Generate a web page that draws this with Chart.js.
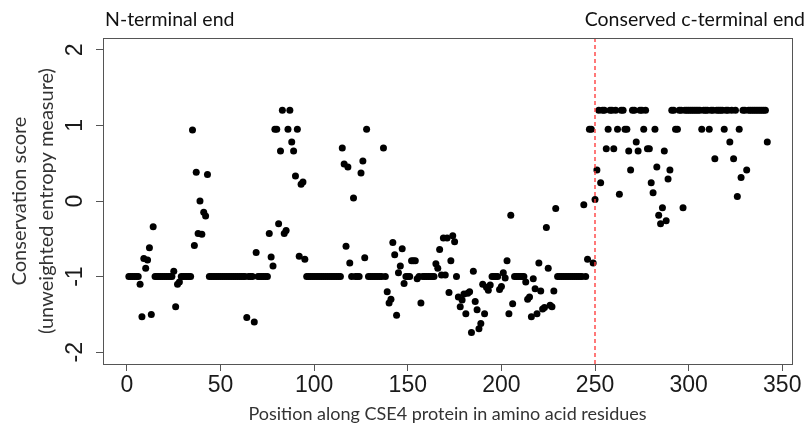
<!DOCTYPE html>
<html>
<head>
<meta charset="utf-8">
<script src="https://cdn.jsdelivr.net/npm/chart.js@4.4.0/dist/chart.umd.min.js"></script>
<style>
  html, body { margin: 0; padding: 0; background: #fff; }
  #wrap { width: 807px; height: 429px; }
</style>
</head>
<body>
<div id="wrap"><canvas id="chart" width="807" height="429"></canvas></div>
<script>
// conservation score per residue, positions 1..342 (ten per row)
const scores = [
  -1, -1, -1, -1, -1, -1, -1.1, -1.53, -0.76, -0.89,
  -0.78, -0.62, -1.5, -0.34, -1, -1, -1, -1, -1, -1,
  -1, -1, -1, -1, -0.93, -1.4, -1.1, -1.07, -1, -1,
  -1, -1, -1, -1, 0.94, -0.59, 0.38, -0.43, 0.0, -0.44,
  -0.15, -0.2, 0.35, -1, -1, -1, -1, -1, -1, -1,
  -1, -1, -1, -1, -1, -1, -1, -1, -1, -1,
  -1, -1, -1, -1.54, -1, -1, -1, -1.6, -0.68, -1,
  -1, -1, -1, -1, -1, -0.43, -0.74, -0.86, 0.95, 0.95,
  -0.3, 0.66, 1.2, -0.43, -0.39, 0.95, 1.2, 0.78, 0.66, 0.33,
  0.95, -0.73, 0.22, 0.25, -0.77, -1, -1, -1, -1, -1,
  -1, -1, -1, -1, -1, -1, -1, -1, -1, -1,
  -1, -1, -1, -1, 0.7, 0.49, -0.6, 0.45, -0.82, -1,
  0.04, -1, -1, -1, 0.37, 0.53, -0.75, 0.95, -1, -1,
  -1, -1, -1, -1, -1, -1, 0.7, -1, -1.2, -1.35,
  -1.3, -0.55, -0.71, -1.51, -0.95, -0.86, -0.63, -1.09, -1, -1,
  -1, -0.79, -0.79, -0.79, -1.03, -1, -1.35, -1, -1, -1,
  -1, -1, -1, -1, -0.83, -0.89, -0.64, -0.98, -0.49, -0.98,
  -0.49, -1.21, -0.79, -0.46, -0.54, -1, -1.27, -1.4, -1.31, -1.23,
  -1.49, -1.22, -1.2, -1.74, -0.93, -1.33, -1.44, -1.69, -1.62, -1.1,
  -1.49, -1.14, -1.18, -1.11, -1, -1, -1, -1, -1.17, -1.13,
  -0.95, -1.02, -0.79, -1.49, -0.19, -1.36, -1, -1, -1, -1,
  -1, -1, -1.07, -1.3, -1.27, -1.53, -1.03, -1.16, -1.49, -0.82,
  -1.19, -1.43, -1.41, -0.35, -0.89, -1.38, -1.4, -1.19, -0.1, -1,
  -1, -1, -1, -1, -1, -1, -1, -1, -1, -1,
  -1, -1, -1, -0.05, -1, -0.77, 0.95, 0.95, -0.82, 0.02,
  0.41, 1.2, 0.24, 1.2, 1.2, 0.69, 0.95, 1.2, 1.2, 0.69,
  1.2, 0.95, 0.09, 1.2, 1.2, 0.95, 0.95, 0.66, 0.41, 1.2,
  1.2, 0.78, 0.66, 1.2, 1.2, 0.95, 1.2, 0.69, 0.69, 0.24,
  0.11, 0.95, 0.45, -0.19, -0.3, -0.09, 0.66, -0.26, 0.29, 0.41,
  1.2, 1.2, 0.95, 0.95, 1.2, 1.2, -0.09, 1.2, 1.2, 1.2,
  1.2, 1.2, 1.2, 1.2, 1.2, 1.2, 0.95, 1.2, 1.2, 1.2,
  0.95, 1.2, 1.2, 0.56, 1.2, 1.2, 1.2, 1.2, 0.95, 1.2,
  1.2, 0.78, 1.2, 0.56, 1.2, 0.06, 0.95, 0.31, 1.2, 1.2,
  0.41, 1.2, 1.2, 1.2, 1.2, 1.2, 1.2, 1.2, 1.2, 1.2,
  1.2, 0.78
];
const positions = scores.map((_, i) => i + 1);

const xTicks = [0, 50, 100, 150, 200, 250, 300, 350];
const yTicks = [-2, -1, 0, 1, 2];
const boundary = 250;

const leftNote = 'N-terminal end';
const rightNote = 'Conserved c-terminal end';
const xTitle = 'Position along CSE4 protein in amino acid residues';
const yTitle = ['Conservation score', '(unweighted entropy measure)'];

const textFont = 'Lato, "Open Sans", sans-serif';

// box, boundary line and the free text round the plot
const decorations = {
    id: 'decorations',
    afterDatasetsDraw(chart) {
        const ctx = chart.ctx;
        const area = chart.chartArea;
        const bx = chart.scales.x.getPixelForValue(boundary);

        ctx.save();
        ctx.strokeStyle = '#ff4040';
        ctx.lineWidth = 1.4;
        ctx.setLineDash([4, 3]);
        ctx.beginPath();
        ctx.moveTo(Math.round(bx), area.top);
        ctx.lineTo(Math.round(bx), area.bottom);
        ctx.stroke();
        ctx.restore();
    },
    afterDraw(chart) {
        const ctx = chart.ctx;
        const area = chart.chartArea;

        ctx.save();
        ctx.strokeStyle = '#555';
        ctx.lineWidth = 1;
        ctx.strokeRect(Math.round(area.left) + 0.5, Math.round(area.top) + 0.5,
            Math.round(area.right - area.left), Math.round(area.bottom - area.top));

        ctx.fillStyle = '#111';
        ctx.font = '19.5px ' + textFont;
        ctx.textBaseline = 'middle';
        ctx.textAlign = 'left';
        ctx.fillText(leftNote, 105, 20);
        ctx.textAlign = 'right';
        ctx.fillText(rightNote, 805, 20);

        ctx.fillStyle = '#333';
        ctx.font = '18px ' + textFont;
        ctx.textAlign = 'center';
        ctx.fillText(xTitle, (area.left + area.right) / 2, 414);

        const cy = (area.top + area.bottom) / 2;
        ctx.font = '20px ' + textFont;
        ctx.translate(20, cy);
        ctx.rotate(-Math.PI / 2);
        ctx.fillText(yTitle[0], 0, 0);
        ctx.fillText(yTitle[1], 0, 27);
        ctx.restore();
    }
};

const axisGrid = {
    drawOnChartArea: false,
    drawTicks: true,
    tickLength: 7,
    color: '#555',
    lineWidth: 1
};

new Chart(document.getElementById('chart').getContext('2d'), {
    type: 'scatter',
    data: {
        datasets: [{
            label: 'Conservation score',
            data: positions.map((p, i) => ({ x: p, y: scores[i] })),
            backgroundColor: '#000',
            borderWidth: 0,
            pointRadius: 3.5,
            pointHoverRadius: 3.5
        }]
    },
    options: {
        responsive: false,
        animation: false,
        layout: {
            padding: { top: 38, right: 15, bottom: 0, left: 0 }
        },
        plugins: {
            legend: { display: false },
            tooltip: { enabled: false }
        },
        scales: {
            x: {
                type: 'linear',
                min: -12.8,
                max: 355.2,
                afterBuildTicks: scale => {
                    scale.ticks = xTicks.map(v => ({ value: v }));
                },
                afterFit: scale => {
                    scale.height = 65;
                },
                grid: axisGrid,
                border: { display: false },
                ticks: {
                    autoSkip: false,
                    maxRotation: 0,
                    padding: 1,
                    color: '#1a1a1a',
                    font: { family: '"Liberation Sans", Arial, sans-serif', size: 23 }
                }
            },
            y: {
                type: 'linear',
                min: -2.156,
                max: 2.156,
                afterBuildTicks: scale => {
                    scale.ticks = yTicks.map(v => ({ value: v }));
                },
                afterFit: scale => {
                    scale.width = 103;
                },
                grid: axisGrid,
                border: { display: false },
                ticks: {
                    autoSkip: false,
                    minRotation: 90,
                    maxRotation: 90,
                    crossAlign: 'center',
                    padding: 10,
                    color: '#1a1a1a',
                    font: { family: '"Liberation Sans", Arial, sans-serif', size: 23 }
                }
            }
        }
    },
    plugins: [decorations]
});
</script>
</body>
</html>
